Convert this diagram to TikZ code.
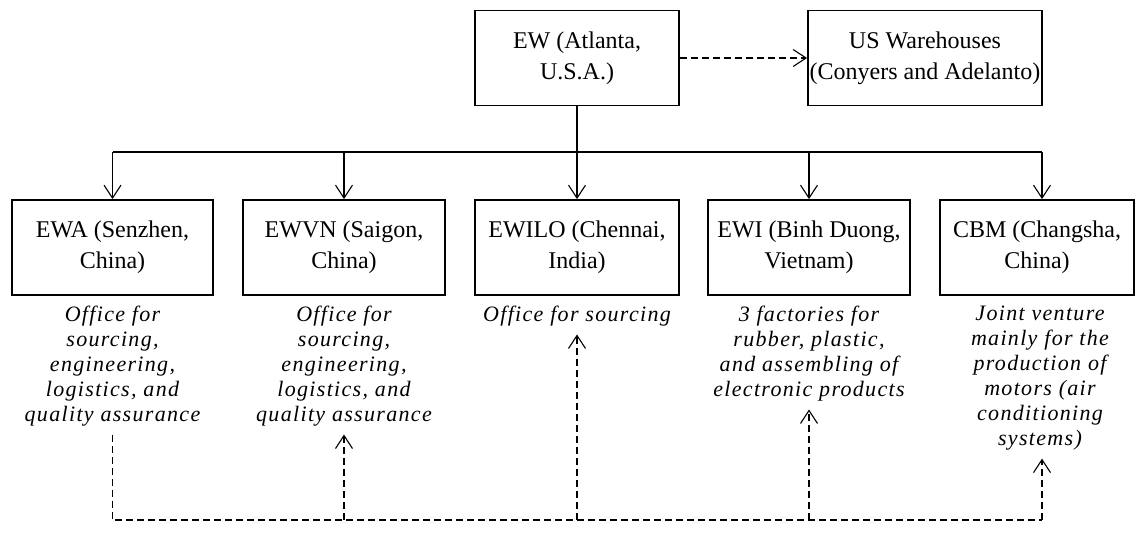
\documentclass[tikz,border=0pt]{standalone}
\usepackage{fontspec}
\setmainfont{Liberation Serif}
\newfontfamily\notefont[LetterSpace=6]{Liberation Serif}
\usetikzlibrary{arrows.meta,positioning}

\begin{document}
\begin{tikzpicture}[x=1pt,y=-1pt,
  unit/.style={draw, line width=1.8pt, minimum height=95pt, inner sep=0pt,
    align=center, font=\fontsize{24}{31}\selectfont},
  note/.style={align=center, inner sep=0pt, anchor=north,
    font=\notefont\itshape\fontsize{22}{25}\selectfont},
  tip/.style={-{Straight Barb[length=13pt,width=17pt,line width=1.1pt]}},
  feed/.style={line width=1.1pt},
  flow/.style={line width=1.1pt, dash pattern=on 7pt off 4pt}]
\useasboundingbox (0,0) rectangle (1137,550);

% head office and warehouses
\node[unit, minimum width=204pt] (ew) at (577,58) {EW (Atlanta,\\U.S.A.)};
\node[unit, minimum width=234pt] (us) at (925,58) {US Warehouses\\(Conyers and Adelanto)};

% subsidiaries
\node[unit, minimum width=201pt] (ewa)   at (112.5,247.5) {EWA (Senzhen,\\China)};
\node[unit, minimum width=202pt] (ewvn)  at (344,247.5)   {EWVN (Saigon,\\China)};
\node[unit, minimum width=204pt] (ewilo) at (577,247.5)   {EWILO (Chennai,\\India)};
\node[unit, minimum width=202pt] (ewi)   at (809,247.5)   {EWI (Binh Duong,\\Vietnam)};
\node[unit, minimum width=194pt] (cbm)   at (1037,247.5)  {CBM (Changsha,\\China)};

% role of each subsidiary
\node[note] (nA) at ([yshift=-10pt]ewa.south)   {Office for\\sourcing,\\engineering,\\logistics, and\\quality assurance};
\node[note] (nV) at ([yshift=-10pt]ewvn.south)  {Office for\\sourcing,\\engineering,\\logistics, and\\quality assurance};
\node[note] (nL) at ([yshift=-10pt]ewilo.south) {Office for sourcing};
\node[note] (nI) at ([yshift=-10pt]ewi.south)   {3 factories for\\rubber, plastic,\\and assembling of\\electronic products};
\node[note] (nC) at ([xshift=3pt,yshift=-10pt]cbm.south) {Joint venture\\mainly for the\\production of\\motors (air\\conditioning\\systems)};

% reporting tree
\coordinate (b1) at (112.5,152);
\coordinate (b2) at (344,152);
\coordinate (b3) at (577,152);
\coordinate (b4) at (809,152);
\coordinate (b5) at (1042,152);
\draw[feed] (ew.south) -- (b3);
\draw[feed] (b1) -- (b5);
\draw[feed,tip] (b1) -- (ewa.north);
\draw[feed,tip] (b2) -- (ewvn.north);
\draw[feed,tip] (b3) -- (ewilo.north);
\draw[feed,tip] (b4) -- (ewi.north);
\draw[feed,tip] (b5) -- (b5 |- cbm.north);

% shipments to the warehouses
\draw[flow,tip] (ew.east) -- (us.west);

% supply links between subsidiaries
\coordinate (s1) at ([yshift=-8pt]nA.south);
\coordinate (r1) at (s1 |- 0,520);
\coordinate (r2) at (344,520);
\coordinate (r3) at (577,520);
\coordinate (r4) at (809,520);
\coordinate (r5) at (1042,520);
\draw[flow] (s1) -- (r1) -- (r5);
\draw[flow,tip] (r2) -- ([yshift=-8pt]r2 |- nV.south);
\draw[flow,tip] (r3) -- ([yshift=-8pt]r3 |- nL.south);
\draw[flow,tip] (r4) -- ([yshift=-8pt]r4 |- nI.south);
\draw[flow,tip] (r5) -- ([yshift=-8pt]r5 |- nC.south);
\end{tikzpicture}
\end{document}
